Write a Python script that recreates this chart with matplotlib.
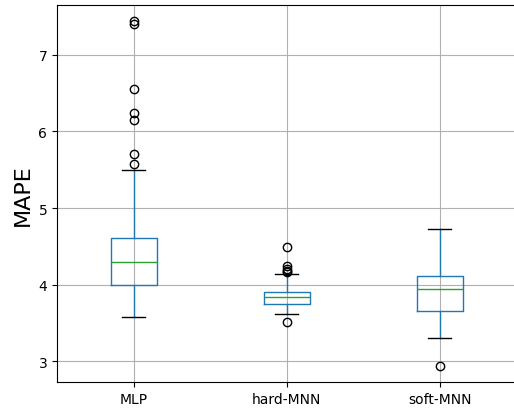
import numpy as np
import matplotlib
matplotlib.use("Agg")
import matplotlib.pyplot as plt

# --------------------
# box statistics
# --------------------
models = ["MLP", "hard-MNN", "soft-MNN"]
q1 = [4.00, 3.75, 3.65]
med = [4.30, 3.84, 3.94]
q3 = [4.61, 3.91, 4.11]
whis_lo = [3.58, 3.62, 3.30]
whis_hi = [5.50, 4.14, 4.72]
fliers = [
    [7.44, 7.40, 6.55, 6.24, 6.15, 5.70, 5.57],
    [4.49, 4.24, 4.21, 4.18, 4.16, 3.51],
    [2.94],
]

stats = []
for i, name in enumerate(models):
    stats.append(dict(
        label=name, q1=q1[i], med=med[i], q3=q3[i],
        whislo=whis_lo[i], whishi=whis_hi[i], fliers=fliers[i],
    ))

fig = plt.figure(figsize=(5.14, 4.10), dpi=100)
ax = fig.add_axes([0.1109, 0.0651, 0.8935, 0.9203])

ax.bxp(
    stats,
    boxprops=dict(color="C0"),
    whiskerprops=dict(color="C0"),
    medianprops=dict(color="C2"),
    capprops=dict(color="k"),
    flierprops=dict(marker="o", markerfacecolor="none", markeredgecolor="k", markersize=6),
)

ax.grid(True)
ax.set_axisbelow(True)
ax.set_xlim(0.5, 3.5)
ax.set_ylim(2.726, 7.649)
ax.set_yticks([3, 4, 5, 6, 7])
ax.set_ylabel("MAPE", fontsize=16)

fig.savefig("out.png", dpi=100)
